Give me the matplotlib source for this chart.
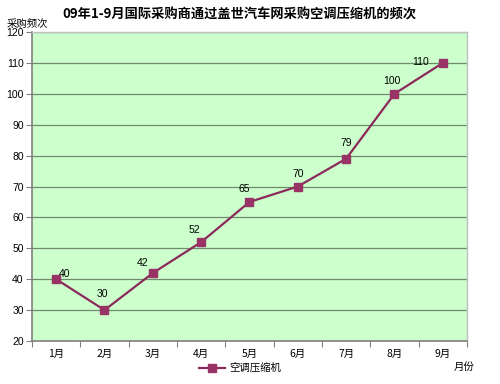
import matplotlib
matplotlib.use('Agg')
from matplotlib import pyplot as plt
import numpy as np

plt.rcParams['font.family'] = ['Noto Sans CJK SC', 'DejaVu Sans']

months = ['1月', '2月', '3月', '4月', '5月', '6月', '7月', '8月', '9月']
counts = [40, 30, 42, 52, 65, 70, 79, 100, 110]
series_name = '空调压缩机'
title = '09年1-9月国际采购商通过盖世汽车网采购空调压缩机的频次'

line_color = '#8B2A5A'
marker_color = '#993366'

fig = plt.figure(figsize=(5.0, 3.84), dpi=100)
ax = fig.add_axes([32 / 500, 1 - 341 / 384, 435 / 500, 309 / 384])
ax.set_facecolor('#CCFFCC')

x = np.arange(len(months))
ax.plot(x, counts, color=line_color, lw=1.6, marker='s', ms=6,
        mfc=marker_color, mec=marker_color, label=series_name, zorder=3)

# label offsets in pixels (label centre relative to point)
offsets = [(8, 5), (-2, 16), (-10, 10), (-7, 12), (-5, 13), (0, 13), (0, 16), (-3, 13), (-22, 1)]
for xi, v, (dx, dy) in zip(x, counts, offsets):
    ax.annotate(str(v), (xi, v), xytext=(dx, dy), textcoords='offset pixels',
                ha='center', va='center', fontsize=7.5,
                family=['Liberation Sans'])

ax.set_xlim(-0.5, len(months) - 0.5)
ax.set_ylim(20, 120)
ax.set_yticks(np.arange(20, 121, 10))
ax.set_yticklabels([str(t) for t in range(20, 121, 10)], family=['Liberation Sans'])
ax.set_xticks(np.arange(-0.5, len(months), 1), minor=False)
ax.set_xticklabels([])
ax.set_xticks(x, minor=True)
ax.set_xticklabels(months, minor=True, fontsize=7.5)
ax.tick_params(axis='x', which='minor', length=0, pad=6)
ax.tick_params(axis='x', which='major', length=4, color='#808080', direction='out')
ax.tick_params(axis='y', labelsize=7.5, length=4, color='#808080', pad=2)
ax.grid(axis='y', color='#6E8B6E', lw=0.9)
ax.set_axisbelow(True)

for side in ['top', 'right']:
    ax.spines[side].set_color('#C0C0C0')
    ax.spines[side].set_linewidth(1.0)
for side in ['left', 'bottom']:
    ax.spines[side].set_color('#808080')
    ax.spines[side].set_linewidth(1.2)

fig.text(239 / 500, 1 - 15 / 384, title, ha='center', va='center', fontsize=9.5, fontweight='bold')
fig.text(7 / 500, 1 - 24 / 384, '采购频次', ha='left', va='center', fontsize=7.5)
fig.text(464 / 500, 1 - 367 / 384, '月份', ha='center', va='center', fontsize=7.5)

ax.legend(loc='center', bbox_to_anchor=(240 / 500, 1 - 368 / 384),
          bbox_transform=fig.transFigure, frameon=False, fontsize=7.5,
          handlelength=2.5, handletextpad=0.4)

plt.savefig('out.png', dpi=100)
